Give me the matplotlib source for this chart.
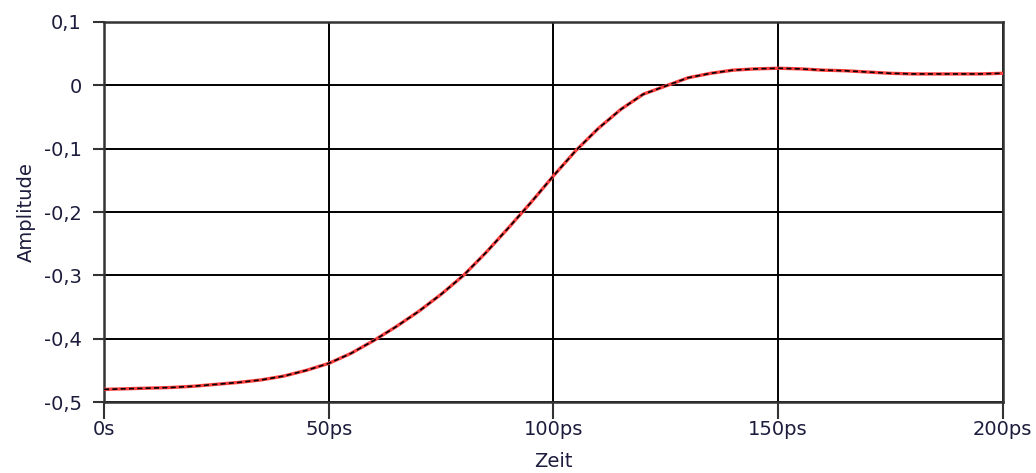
import numpy as np
import matplotlib.pyplot as plt

# time in ps, amplitude
zeit_ps = [0, 5, 10, 15, 20, 25, 30, 35, 40, 45, 50, 55, 60, 65, 70, 75, 80, 85, 90, 95,
           100, 105, 110, 115, 120, 125, 130, 135, 140, 145, 150, 155, 160, 165, 170, 175,
           180, 185, 190, 195, 200]
amplitude = [-0.480, -0.479, -0.478, -0.477, -0.475, -0.472, -0.469, -0.465, -0.459, -0.450,
             -0.439, -0.423, -0.403, -0.381, -0.357, -0.330, -0.300, -0.264, -0.225, -0.185,
             -0.143, -0.103, -0.068, -0.038, -0.014, -0.001, 0.012, 0.019, 0.024, 0.026,
             0.027, 0.026, 0.024, 0.023, 0.021, 0.019, 0.018, 0.018, 0.018, 0.018, 0.019]

xticks = [0, 50, 100, 150, 200]
xticklabels = ['0s', '50ps', '100ps', '150ps', '200ps']
yticks = [-0.5, -0.4, -0.3, -0.2, -0.1, 0, 0.1]
yticklabels = ['-0,5', '-0,4', '-0,3', '-0,2', '-0,1', '0', '0,1']

plt.rcParams['font.family'] = ['DejaVu Sans']
txt_col = '#1c1c3c'
fs = 14

fig = plt.figure(figsize=(10.36, 4.73), dpi=100)
ax = fig.add_axes([0.1004, 0.150, 0.8675, 0.8035])

ax.plot(zeit_ps, amplitude, color='#ff4040', lw=2.4, zorder=3)
ax.plot(zeit_ps, amplitude, color='black', lw=1.2, ls=(0, (3, 2)), zorder=4)

ax.set_xlim(0, 200)
ax.set_ylim(-0.5, 0.1)
ax.set_xticks(xticks)
ax.set_xticklabels(xticklabels)
ax.set_yticks(yticks)
ax.set_yticklabels(yticklabels)
ax.grid(True, color='black', lw=1.4)
ax.set_axisbelow(True)

for s in ax.spines.values():
    s.set_color('#333333')
    s.set_linewidth(1.8)

ax.tick_params(axis='y', length=8, width=1.5, color='#333333', labelsize=fs, labelcolor=txt_col, pad=8)
ax.tick_params(axis='x', length=12, width=1.5, color='#333333', labelsize=fs, labelcolor=txt_col, pad=1)

ax.set_xlabel('Zeit', fontsize=fs, color=txt_col, labelpad=9)
ax.set_ylabel('Amplitude', fontsize=fs, color=txt_col, labelpad=6)

fig.savefig('out.png', dpi=100)
